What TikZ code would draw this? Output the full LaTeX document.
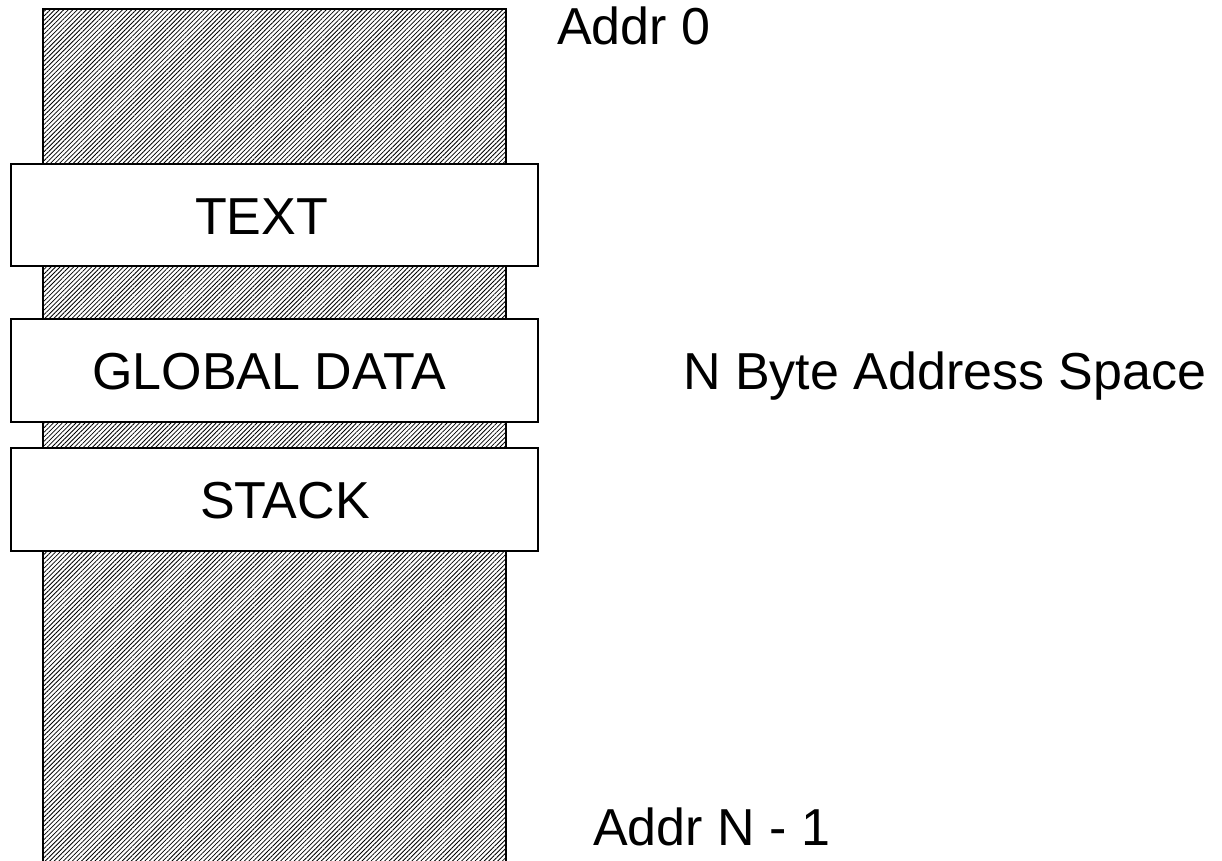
\documentclass[tikz,border=0pt]{standalone}
\usepackage{fontspec}
\setmainfont{Liberation Sans}
\usetikzlibrary{patterns.meta}
\begin{document}
\begin{tikzpicture}[x=1pt,y=-1pt,
  hatched/.style={draw=black,line width=2pt,
    pattern={Lines[angle=45,distance=3.2pt,line width=0.8pt]},pattern color=black},
  segment/.style={draw=black,line width=2pt,fill=white},
  lbl/.style={inner sep=0pt,anchor=base west,font=\fontsize{52}{62}\selectfont}]
  \useasboundingbox (0,0) rectangle (1222,861);
  % address space column
  \path[hatched] (43,9) rectangle (506,870);
  % memory segments
  \path[segment] (11,164) rectangle (538,266);
  \path[segment] (11,319) rectangle (538,422);
  \path[segment] (11,448) rectangle (538,551);
  \node[lbl] (text)   at (195,234) {TEXT};
  \node[lbl] (global) at (92,389)  {GLOBAL DATA};
  \node[lbl] (stack)  at (200,518) {STACK};
  % address labels
  \node[lbl] (a0)    at (557,45)  {Addr 0};
  \node[lbl] (an)    at (593,845) {Addr N - 1};
  \node[lbl] (space) at (683,389) {N Byte Address Space};
\end{tikzpicture}
\end{document}
